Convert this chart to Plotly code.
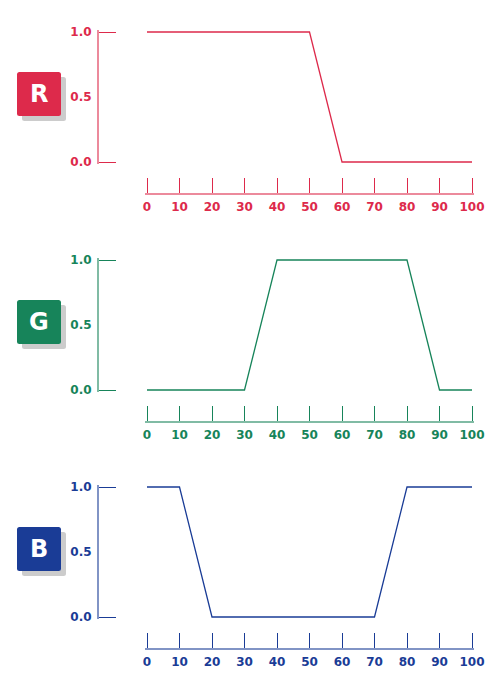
import plotly.graph_objects as go

# Kanaalwaarden (0..1) per tint-positie (0..100)
positions = [0, 10, 20, 30, 40, 50, 60, 70, 80, 90, 100]
red_values = [1, 1, 1, 1, 1, 1, 0, 0, 0, 0, 0]
green_values = [0, 0, 0, 0, 1, 1, 1, 1, 1, 0, 0]
blue_values = [1, 1, 0, 0, 0, 0, 0, 0, 1, 1, 1]

channel_names = ['R', 'G', 'B']
channel_values = [red_values, green_values, blue_values]
channel_colors = ['#DD2A4B', '#17845A', '#1A3C96']
channel_lines = ['rgba(221,42,75,0.55)', 'rgba(23,132,90,0.55)', 'rgba(26,60,150,0.55)']

y_ticks = [0, 0.5, 1]
y_labels = ['0.0', '0.5', '1.0']
y_stubs = [0, 1]

# de pagina heeft 8px marge, dus figuur iets kleiner en coordinaten verschuiven
OFF = 8
W, H = 504 - OFF, 695 - OFF
panel_tops = [32, 260, 487]  # pixel positie van 1.0 in het venster
panel_h = 130
x_left, x_right = 147, 472
ypad = 0.012  # ruimte zodat lijn en streepjes op 0 en 1 niet wegvallen
xpad = 0.6


def px_x(p):
    return (p - OFF) / W


def px_y(p):
    return 1 - (p - OFF) / H


def rounded_rect(x0, y0, x1, y1, r=2.5):
    # afgeronde rechthoek als svg-pad in paper-coordinaten (invoer in pixels)
    pts = [
        ('M', x0 + r, y0), ('L', x1 - r, y0), ('Q', x1, y0, x1, y0 + r),
        ('L', x1, y1 - r), ('Q', x1, y1, x1 - r, y1), ('L', x0 + r, y1),
        ('Q', x0, y1, x0, y1 - r), ('L', x0, y0 + r), ('Q', x0, y0, x0 + r, y0),
    ]
    out = []
    for p in pts:
        cmd, coords = p[0], p[1:]
        xy = []
        for k in range(0, len(coords), 2):
            xy.append(f'{px_x(coords[k]):.5f},{px_y(coords[k + 1]):.5f}')
        out.append(cmd + ' ' + ' '.join(xy))
    return ' '.join(out) + ' Z'


fig = go.Figure()
shapes = []
annotations = []
layout = {}

xw = x_right - x_left
x_dom = [px_x(x_left - xw * xpad / 100), px_x(x_right + xw * xpad / 100)]

for i, (name, vals, col, lcol, top) in enumerate(
        zip(channel_names, channel_values, channel_colors, channel_lines, panel_tops)):
    n = i + 1
    xa = 'x' if n == 1 else f'x{n}'
    ya = 'y' if n == 1 else f'y{n}'

    fig.add_trace(go.Scatter(x=positions, y=vals, mode='lines', xaxis=xa, yaxis=ya,
                             line=dict(color=col, width=1.3), hoverinfo='skip',
                             showlegend=False))

    extra = panel_h * ypad
    dom = [px_y(top + panel_h + extra), px_y(top - extra)]
    tickfont = dict(family='DejaVu Sans', size=12, color=col, weight='bold')

    layout[f'xaxis{n}' if n > 1 else 'xaxis'] = dict(
        domain=x_dom, range=[-xpad, 100 + xpad], anchor='free',
        position=px_y(top + panel_h + 32), showline=True, linecolor=lcol, linewidth=2,
        ticks='inside', ticklen=15, tickcolor=col, tickwidth=1.3,
        tickmode='array', tickvals=positions, showgrid=False, zeroline=False,
        tickfont=tickfont, fixedrange=True, automargin=False, ticklabelstandoff=2)

    # as met labels, verticale lijn en streepjes bij 0.0 en 1.0
    layout[f'yaxis{n}' if n > 1 else 'yaxis'] = dict(
        domain=dom, range=[-ypad, 1 + ypad], anchor='free', position=px_x(98),
        showline=True, linecolor=lcol, linewidth=2, ticks='outside', ticklen=0,
        tickmode='array', tickvals=y_ticks, ticktext=y_labels,
        minor=dict(tickmode='array', tickvals=y_stubs, ticks='inside', ticklen=17,
                   tickcolor=col, tickwidth=1.3, showgrid=False),
        showgrid=False, zeroline=False, tickfont=tickfont, fixedrange=True,
        automargin=False, ticklabelstandoff=3)

    # badge met schaduw
    cy = top + 62
    shapes.append(dict(type='path', xref='paper', yref='paper',
                       path=rounded_rect(22, cy - 17, 66, cy + 27),
                       fillcolor='#CCCCCC', line=dict(width=0), layer='below'))
    shapes.append(dict(type='path', xref='paper', yref='paper',
                       path=rounded_rect(17, cy - 22, 61, cy + 22),
                       fillcolor=col, line=dict(width=0), layer='below'))
    annotations.append(dict(text=name, xref='paper', yref='paper', x=px_x(39),
                            y=px_y(cy), showarrow=False, xanchor='center', yanchor='middle',
                            font=dict(family='DejaVu Sans', size=24, color='white',
                                      weight='bold')))

fig.update_layout(**layout)
fig.update_layout(
    width=W, height=H,
    margin=dict(l=0, r=0, t=0, b=0, pad=0),
    paper_bgcolor='white', plot_bgcolor='white',
    shapes=shapes, annotations=annotations,
    showlegend=False,
)

fig.write_html('out.html', config={'displayModeBar': False})
